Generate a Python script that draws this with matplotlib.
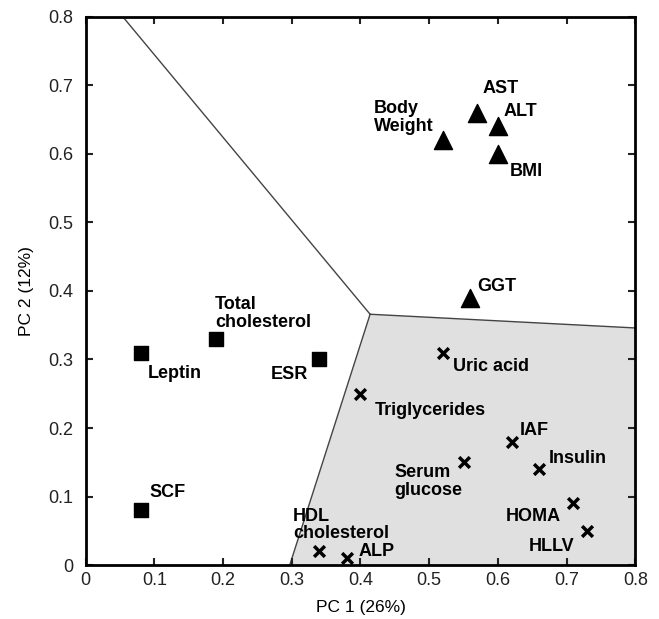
import matplotlib
matplotlib.use('Agg')
import matplotlib.pyplot as plt
from matplotlib.patches import Polygon

plt.rcParams['font.family'] = ['Liberation Sans', 'DejaVu Sans']

# triangles
tri_names = ['AST', 'ALT', 'Body\nWeight', 'BMI', 'GGT']
tri_x = [0.57, 0.60, 0.52, 0.60, 0.56]
tri_y = [0.66, 0.64, 0.62, 0.60, 0.39]

# squares
sq_names = ['Leptin', 'Total\ncholesterol', 'ESR', 'SCF']
sq_x = [0.08, 0.19, 0.34, 0.08]
sq_y = [0.31, 0.33, 0.30, 0.08]

# crosses
x_names = ['Uric acid', 'Triglycerides', 'IAF', 'Insulin', 'Serum\nglucose',
           'HOMA', 'HLLV', 'HDL\ncholesterol', 'ALP']
x_x = [0.52, 0.40, 0.62, 0.66, 0.55, 0.71, 0.73, 0.34, 0.38]
x_y = [0.31, 0.25, 0.18, 0.14, 0.15, 0.09, 0.05, 0.02, 0.01]

# boundary lines
junction = (0.414, 0.366)
ends = [(0.054, 0.8), (0.8, 0.346), (0.297, 0.0)]

# label offsets (points) and alignment
offsets = {
    'AST': (4, 14.4, 'left', 'baseline'),
    'ALT': (4, 7.2, 'left', 'baseline'),
    'Body\nWeight': (-7, 3.6, 'right', 'bottom'),
    'BMI': (8.6, -6.5, 'left', 'top'),
    'GGT': (5, 5, 'left', 'baseline'),
    'Leptin': (5, -8.6, 'left', 'top'),
    'Total\ncholesterol': (-0.7, 5.8, 'left', 'bottom'),
    'ESR': (-8, -5, 'right', 'top'),
    'SCF': (6.5, 9.4, 'left', 'baseline'),
    'Uric acid': (7, -3.6, 'left', 'top'),
    'Triglycerides': (10, -6, 'left', 'top'),
    'IAF': (6, 5, 'left', 'baseline'),
    'Insulin': (7, 4.3, 'left', 'baseline'),
    'Serum\nglucose': (-1, -1.5, 'right', 'top'),
    'HOMA': (-9, -3.6, 'right', 'top'),
    'HLLV': (-9, -5, 'right', 'top'),
    'HDL\ncholesterol': (-19, 6.5, 'left', 'bottom'),
    'ALP': (8.6, 2, 'left', 'baseline'),
}

fig = plt.figure(figsize=(6.59, 6.19), dpi=100)
ax = fig.add_axes([0.130, 0.087, 0.834, 0.886])

shade = Polygon([junction, ends[1], (0.8, 0.0), ends[2]], closed=True,
                facecolor='#e0e0e0', edgecolor='none', zorder=0)
ax.add_patch(shade)
for e in ends:
    ax.plot([junction[0], e[0]], [junction[1], e[1]], color='#444444', lw=1.0, zorder=1)

ax.scatter(tri_x, tri_y, marker='^', s=170, color='black', zorder=3)
ax.scatter(sq_x, sq_y, marker='s', s=110, color='black', zorder=3)
ax.scatter(x_x, x_y, marker='x', s=60, color='black', linewidths=2.5, zorder=3)

for names, xs, ys in [(tri_names, tri_x, tri_y), (sq_names, sq_x, sq_y), (x_names, x_x, x_y)]:
    for n, xv, yv in zip(names, xs, ys):
        dx, dy, ha, va = offsets[n]
        ax.annotate(n, (xv, yv), xytext=(dx, dy), textcoords='offset points',
                    ha=ha, va=va, multialignment='left', fontsize=13,
                    fontweight='bold', zorder=4, linespacing=1.05)

ax.set_xlim(0, 0.8)
ax.set_ylim(0, 0.8)
ticks = [0, 0.1, 0.2, 0.3, 0.4, 0.5, 0.6, 0.7, 0.8]
labels = ['0', '0.1', '0.2', '0.3', '0.4', '0.5', '0.6', '0.7', '0.8']
ax.set_xticks(ticks)
ax.set_xticklabels(labels)
ax.set_yticks(ticks)
ax.set_yticklabels(labels)
ax.tick_params(direction='in', top=True, right=True, length=5, width=1.5,
               labelsize=13, colors='#222222')
ax.tick_params(axis='x', pad=5)
ax.tick_params(axis='y', pad=9)
for s in ax.spines.values():
    s.set_linewidth(2)
ax.set_xlabel('PC 1 (26%)', fontsize=12.5, labelpad=8)
ax.set_ylabel('PC 2 (12%)', fontsize=12.5, labelpad=10)

fig.savefig('out.png', dpi=100)
